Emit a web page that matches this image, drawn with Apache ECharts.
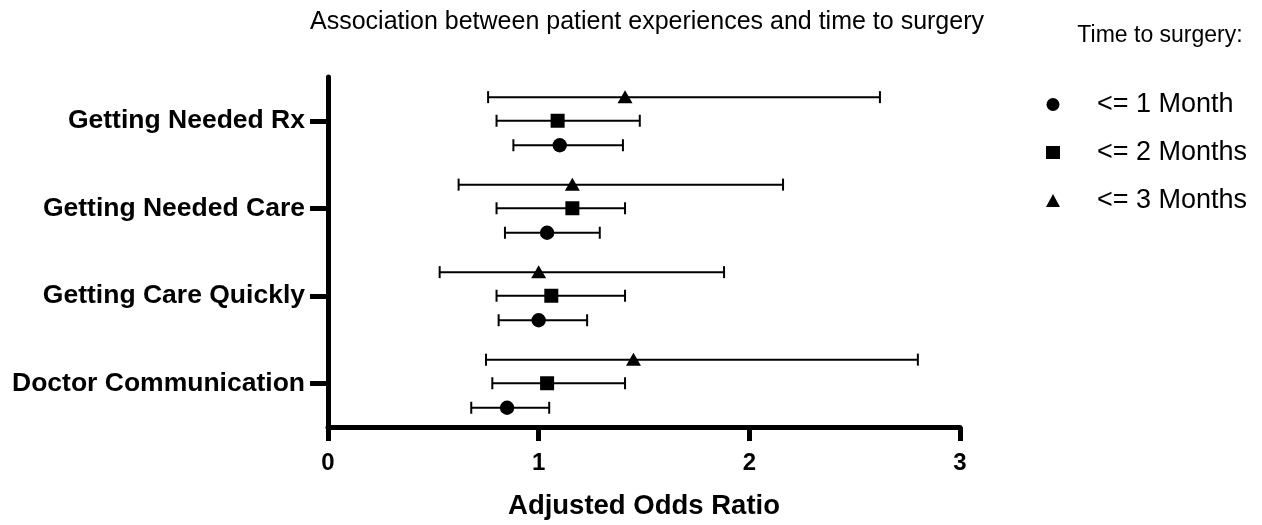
<!DOCTYPE html>
<html>
<head>
<meta charset="utf-8">
<script src="https://cdn.jsdelivr.net/npm/echarts@6/dist/echarts.min.js"></script>
<style>
html,body{margin:0;padding:0;background:#fff;}
#chart{width:1262px;height:525px;}
</style>
</head>
<body>
<div id="chart"></div>
<script>
// Categories from bottom to top of the y axis
const categories = ['Doctor Communication', 'Getting Care Quickly', 'Getting Needed Care', 'Getting Needed Rx'];

// <= 1 Month (circle)
const or1 = [0.85, 1.00, 1.04, 1.10];
const lo1 = [0.68, 0.81, 0.84, 0.88];
const hi1 = [1.05, 1.23, 1.29, 1.40];

// <= 2 Months (square)
const or2 = [1.04, 1.06, 1.16, 1.09];
const lo2 = [0.78, 0.80, 0.80, 0.80];
const hi2 = [1.41, 1.41, 1.41, 1.48];

// <= 3 Months (triangle)
const or3 = [1.45, 1.00, 1.16, 1.41];
const lo3 = [0.75, 0.53, 0.62, 0.76];
const hi3 = [2.80, 1.88, 2.16, 2.62];

const seriesNames = ['<= 1 Month', '<= 2 Months', '<= 3 Months'];
const xTicks = [0, 1, 2, 3];

const FONT = 'Liberation Sans, Arial, Helvetica, sans-serif';

function rows(o, l, h) {
  return categories.map((c, i) => [i, o[i], l[i], h[i]]);
}

function makeRender(shape, offFrac) {
  return function (params, api) {
    const ci = api.value(0);
    const x = api.value(1), lo = api.value(2), hi = api.value(3);
    const band = api.size([0, 1])[1];
    const c = api.coord([x, ci]);
    const y = c[1] + offFrac * band;
    const xl = api.coord([lo, ci])[0];
    const xh = api.coord([hi, ci])[0];
    const cap = 6;
    const ls = { stroke: '#000', lineWidth: 2 };
    const children = [
      { type: 'line', shape: { x1: xl, y1: y, x2: xh, y2: y }, style: ls },
      { type: 'line', shape: { x1: xl, y1: y - cap, x2: xl, y2: y + cap }, style: ls },
      { type: 'line', shape: { x1: xh, y1: y - cap, x2: xh, y2: y + cap }, style: ls }
    ];
    const cx = c[0];
    if (shape === 'circle') {
      children.push({ type: 'circle', shape: { cx: cx, cy: y, r: 7.2 }, style: { fill: '#000' } });
    } else if (shape === 'rect') {
      children.push({ type: 'rect', shape: { x: cx - 7, y: y - 7, width: 14, height: 14 }, style: { fill: '#000' } });
    } else {
      children.push({ type: 'polygon', shape: { points: [[cx, y - 7], [cx - 7.5, y + 6], [cx + 7.5, y + 6]] }, style: { fill: '#000' } });
    }
    return { type: 'group', children: children };
  };
}

const chart = echarts.init(document.getElementById('chart'), null, { renderer: 'canvas' });

const option = {
  backgroundColor: '#fff',
  animation: false,
  title: [
    {
      text: 'Association between patient experiences and time to surgery',
      left: 642, top: 5, textAlign: 'center',
      textStyle: { fontFamily: FONT, fontSize: 25, fontWeight: 'normal', color: '#000' }
    },
    {
      text: 'Time to surgery:',
      left: 1155, top: 19, textAlign: 'center',
      textStyle: { fontFamily: FONT, fontSize: 23, fontWeight: 'normal', color: '#000' }
    }
  ],
  legend: {
    orient: 'vertical',
    left: 1041, top: 86,
    itemWidth: 14, itemHeight: 13,
    itemGap: 21,
    textStyle: { fontFamily: FONT, fontSize: 27, color: '#000', lineHeight: 27, padding: [0, 0, 0, 32] },
    data: [
      { name: seriesNames[0], icon: 'circle' },
      { name: seriesNames[1], icon: 'rect' },
      { name: seriesNames[2], icon: 'triangle' }
    ]
  },
  grid: { left: 328, right: 302, top: 77, bottom: 95, containLabel: false },
  xAxis: {
    type: 'value',
    min: xTicks[0], max: xTicks[xTicks.length - 1], interval: 1,
    name: 'Adjusted Odds Ratio',
    nameLocation: 'middle', nameGap: 65,
    nameTextStyle: { fontFamily: FONT, fontSize: 27.5, fontWeight: 'bold', color: '#000' },
    axisLine: { show: true, lineStyle: { color: '#000', width: 5 } },
    axisTick: { show: true, length: 14, lineStyle: { color: '#000', width: 5 } },
    axisLabel: { fontFamily: FONT, fontSize: 24, fontWeight: 'bold', color: '#000', margin: 24,
      formatter: v => String(v) },
    splitLine: { show: false }
  },
  yAxis: {
    type: 'category',
    data: categories,
    axisLine: { show: true, lineStyle: { color: '#000', width: 5 } },
    axisTick: { show: true, alignWithLabel: true, length: 18, lineStyle: { color: '#000', width: 5 } },
    axisLabel: { fontFamily: FONT, fontSize: 26.5, fontWeight: 'bold', color: '#000', margin: 23 },
    splitLine: { show: false }
  },
  series: [
    { name: seriesNames[0], type: 'custom', renderItem: makeRender('circle', 0.28),
      itemStyle: { color: '#000' }, encode: { x: [1, 2, 3], y: 0 }, data: rows(or1, lo1, hi1), z: 3 },
    { name: seriesNames[1], type: 'custom', renderItem: makeRender('rect', 0.0),
      itemStyle: { color: '#000' }, encode: { x: [1, 2, 3], y: 0 }, data: rows(or2, lo2, hi2), z: 3 },
    { name: seriesNames[2], type: 'custom', renderItem: makeRender('triangle', -0.27),
      itemStyle: { color: '#000' }, encode: { x: [1, 2, 3], y: 0 }, data: rows(or3, lo3, hi3), z: 3 }
  ]
};

chart.setOption(option);
</script>
</body>
</html>
